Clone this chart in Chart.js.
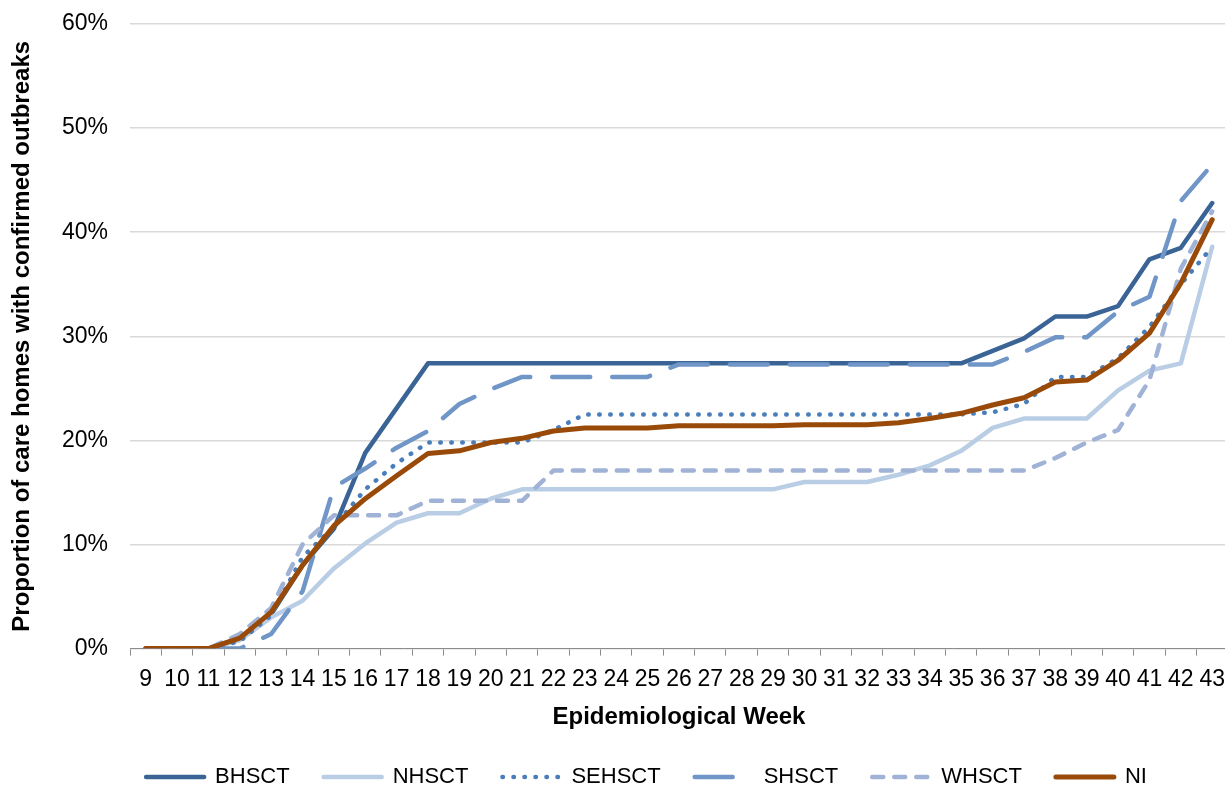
<!DOCTYPE html>
<html>
<head>
<meta charset="utf-8">
<script src="https://cdn.jsdelivr.net/npm/chart.js@4.4.0/dist/chart.umd.min.js"></script>
<style>
    html, body { margin: 0; padding: 0; background: #fff; overflow: hidden; }
    #wrap { width: 1235px; height: 787px; }
</style>
</head>
<body>
<div id="wrap"><canvas id="outbreakChart"></canvas></div>
<script>
// Epidemiological weeks on the x axis
const weeks = [9, 10, 11, 12, 13, 14, 15, 16, 17, 18, 19, 20, 21, 22, 23, 24, 25, 26,
    27, 28, 29, 30, 31, 32, 33, 34, 35, 36, 37, 38, 39, 40, 41, 42, 43];

// Proportion of care homes with confirmed outbreaks (%)
const bhsct = [0, 0, 0, 1.0, 3.3, 8.0, 11.5, 18.8, 23.1, 27.4, 27.4, 27.4, 27.4, 27.4, 27.4, 27.4, 27.4, 27.4,
    27.4, 27.4, 27.4, 27.4, 27.4, 27.4, 27.4, 27.4, 27.4, 28.6, 29.8, 31.9, 31.9, 32.9, 37.4, 38.5, 42.8];
const nhsct = [0, 0, 0, 0.8, 3.0, 4.6, 7.7, 10.1, 12.1, 13.0, 13.0, 14.4, 15.3, 15.3, 15.3, 15.3, 15.3, 15.3,
    15.3, 15.3, 15.3, 16.0, 16.0, 16.0, 16.7, 17.6, 19.0, 21.2, 22.1, 22.1, 22.1, 24.8, 26.7, 27.4, 38.6];
const sehsct = [0, 0, 0, 0.7, 3.2, 8.8, 11.7, 15.3, 17.8, 19.8, 19.8, 19.8, 19.8, 21.0, 22.5, 22.5, 22.5, 22.5,
    22.5, 22.5, 22.5, 22.5, 22.5, 22.5, 22.5, 22.5, 22.5, 22.7, 23.5, 26.1, 26.1, 27.9, 30.9, 35.0, 38.6];
const shsct = [0, 0, 0, 0, 1.4, 5.5, 15.5, 17.3, 19.3, 20.9, 23.5, 24.9, 26.1, 26.1, 26.1, 26.1, 26.1, 27.3,
    27.3, 27.3, 27.3, 27.3, 27.3, 27.3, 27.3, 27.3, 27.3, 27.3, 28.5, 29.9, 29.9, 32.4, 33.8, 43.0, 46.5];
const whsct = [0, 0, 0, 1.4, 3.9, 10.0, 12.8, 12.8, 12.8, 14.2, 14.2, 14.2, 14.2, 17.1, 17.1, 17.1, 17.1, 17.1,
    17.1, 17.1, 17.1, 17.1, 17.1, 17.1, 17.1, 17.1, 17.1, 17.1, 17.1, 18.3, 19.8, 21.0, 25.8, 36.5, 42.0];
const ni = [0, 0, 0, 1.0, 3.5, 8.0, 11.8, 14.4, 16.6, 18.75, 19.0, 19.8, 20.2, 20.9, 21.2, 21.2, 21.2, 21.4,
    21.4, 21.4, 21.4, 21.5, 21.5, 21.5, 21.7, 22.1, 22.6, 23.4, 24.1, 25.6, 25.8, 27.7, 30.3, 35.1, 41.2];

const yTicks = [0, 10, 20, 30, 40, 50, 60];

const FONT = '"Liberation Sans", Arial, Helvetica, sans-serif';
Chart.defaults.font.family = FONT;
Chart.defaults.color = '#000';

// helper for one series line; order keeps NI drawn on top like the original
function series(label, data, color, width, dash, order) {
    return {
        label,
        data,
        borderColor: color,
        backgroundColor: color,
        borderWidth: width,
        borderDash: dash,
        borderCapStyle: 'round',
        borderJoinStyle: 'round',
        pointRadius: 0,
        pointHoverRadius: 0,
        tension: 0,
        fill: false,
        order
    };
}

// legend samples: copy the line style of each dataset (dash, width, cap)
function legendLabels(chart) {
    const items = Chart.defaults.plugins.legend.labels.generateLabels(chart);
    items.forEach(item => {
        const ds = chart.data.datasets[item.datasetIndex];
        item.strokeStyle = ds.borderColor;
        item.fillStyle = ds.borderColor;
        item.lineWidth = ds.borderWidth;
        item.lineDash = ds.borderDash;
        item.lineCap = 'round';
    });
    return items;
}

const ctx = document.getElementById('outbreakChart').getContext('2d');
new Chart(ctx, {
    type: 'line',
    data: {
        labels: weeks,
        datasets: [
            series('BHSCT', bhsct, '#3A6495', 4.5, [], 6),
            series('NHSCT', nhsct, '#B9CDE5', 4.5, [], 5),
            series('SEHSCT', sehsct, '#4A7EBB', 4.5, [0.5, 10.5], 4),
            series('SHSCT', shsct, '#7095C7', 4.5, [38, 22], 3),
            series('WHSCT', whsct, '#A0B2D6', 4.5, [11, 11], 2),
            series('NI', ni, '#9A4A08', 5, [], 1)
        ]
    },
    options: {
        responsive: true,
        maintainAspectRatio: false,
        animation: false,
        devicePixelRatio: 1,
        layout: { padding: { top: 24, right: 0, left: 58, bottom: -11 } },
        plugins: {
            tooltip: { enabled: false },
            legend: {
                position: 'bottom',
                labels: {
                    usePointStyle: true,
                    pointStyle: 'line',
                    pointStyleWidth: 58,
                    padding: 34,
                    font: { size: 22 },
                    color: '#000',
                    generateLabels: legendLabels,
                    sort: (a, b) => a.datasetIndex - b.datasetIndex
                }
            }
        },
        scales: {
            x: {
                offset: true,
                afterFit: scale => { scale.height -= 4; },
                grid: {
                    offset: true,
                    drawOnChartArea: false,
                    tickLength: 7,
                    color: '#8C8C8C'
                },
                border: { display: true, color: '#8C8C8C', width: 1 },
                ticks: {
                    autoSkip: false,
                    maxRotation: 0,
                    padding: 10,
                    font: { size: 23 },
                    color: '#000'
                },
                title: {
                    display: true,
                    text: 'Epidemiological Week',
                    font: { size: 24, weight: 'bold' },
                    color: '#000',
                    padding: { top: 4, bottom: 0 }
                }
            },
            y: {
                min: 0,
                max: 60,
                afterBuildTicks: scale => { scale.ticks = yTicks.map(v => ({ value: v })); },
                afterFit: scale => {
                    scale.width = 72;
                    scale.paddingTop = 0;
                    scale.paddingBottom = 0;
                },
                grid: { color: '#D9D9D9', lineWidth: 1.5, drawTicks: false },
                border: { display: false },
                ticks: {
                    padding: 22,
                    font: { size: 23 },
                    color: '#000',
                    callback: v => v + '%'
                },
                title: {
                    display: true,
                    text: 'Proportion of care homes with confirmed outbreaks',
                    font: { size: 24, weight: 'bold' },
                    color: '#000',
                    padding: { top: -50, bottom: 0 }
                }
            }
        }
    }
});
</script>
</body>
</html>
